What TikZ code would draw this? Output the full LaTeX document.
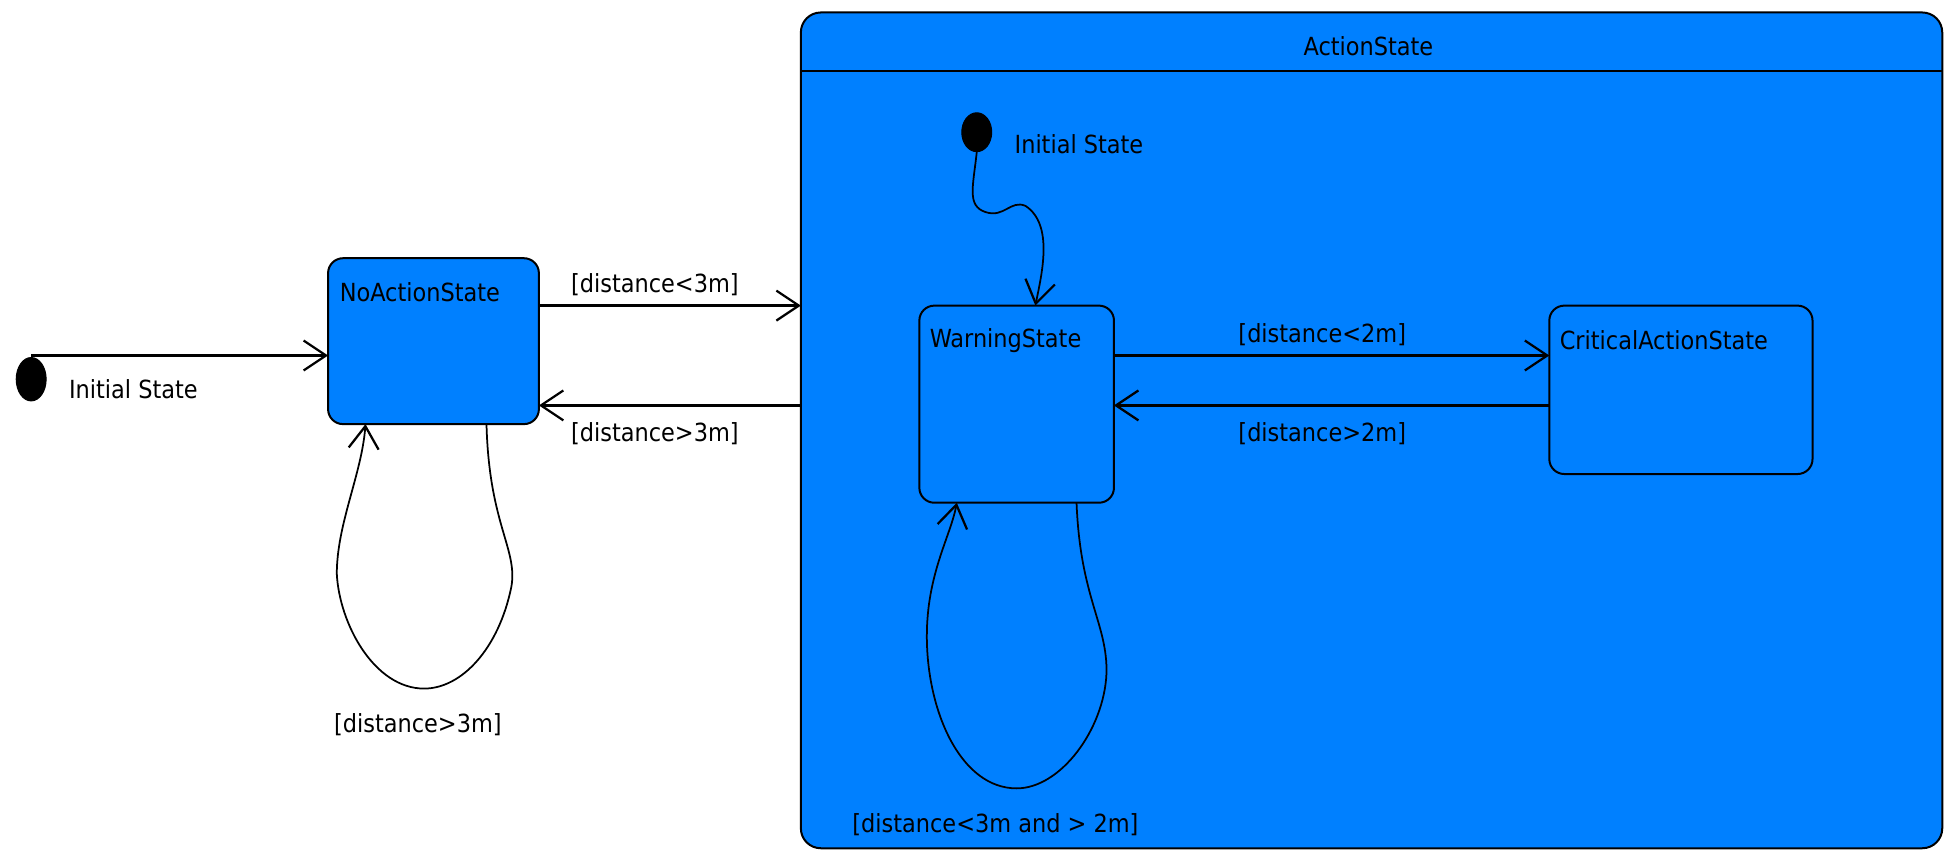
\documentclass[tikz,border=0pt]{standalone}
\usepackage{fontspec}
\setmainfont{DejaVu Sans Condensed}
\usetikzlibrary{arrows.meta}
\definecolor{stblue}{HTML}{0080FF}
\begin{document}
\begin{tikzpicture}[x=0.5pt,y=-0.5pt,
  txt/.style={font=\fontsize{10}{12}\selectfont, inner sep=0pt},
  st/.style={draw=black, line width=0.8pt, fill=stblue, rounded corners=6pt},
  arr/.style={line width=0.9pt, -{Straight Barb[length=9pt,width=12pt,line width=0.9pt]}},
  dot/.style={fill=black, ellipse, minimum width=12pt, minimum height=17pt, inner sep=0pt}]
\useasboundingbox[fill=white] (0,0) rectangle (1560,684);
% composite
\draw[st, rounded corners=8pt] (642,10) rectangle (1557,680);
\coordinate (as) at (642,0);
\draw[line width=0.9pt] (642,57) -- (1557,57);
\node[txt] (astitle) at (1097,37) {ActionState};
% states
\draw[st] (263,207) rectangle (432,340);
\node[txt, anchor=west] (nal) at (272,234) {NoActionState};
\draw[st] (737,245) rectangle (893,403);
\node[txt, anchor=west] (wsl) at (745,273) {WarningState};
\draw[st] (1242,245) rectangle (1453,380);
\node[txt, anchor=west] (csl) at (1250,273) {CriticalActionState};
% initial states
\node[draw, fill=black, shape=circle, inner sep=0pt, minimum size=12pt, xscale=1, yscale=1.45] (i1) at (25,304) {};
\node[txt, anchor=west] (i1l) at (55,312) {Initial State};
\node[draw, fill=black, shape=circle, inner sep=0pt, minimum size=12pt, yscale=1.3] (i2) at (783,106) {};
\node[txt, anchor=west] (i2l) at (813,116) {Initial State};
% coordinates
\coordinate (a0) at (25,285); \coordinate (a1) at (263,285);
\coordinate (b0) at (432,245); \coordinate (b1) at (642,245);
\coordinate (c0) at (642,325); \coordinate (c1) at (432,325);
\coordinate (d0) at (893,285); \coordinate (d1) at (1242,285);
\coordinate (e0) at (1242,325); \coordinate (e1) at (893,325);
\coordinate (l1a) at (390,340); \coordinate (l1b) at (293,340);
\coordinate (l2a) at (863,403); \coordinate (l2b) at (767,403);
\coordinate (s0) at (783,122); \coordinate (s1) at (830,245);
% transitions
\draw[arr] (a0) -- (a1);
\draw[arr] (b0) -- (b1);
\node[txt] (tb) at (525,228) {[distance<3m]};
\draw[arr] (c0) -- (c1);
\node[txt] (tc) at (525,348) {[distance>3m]};
\draw[arr] (d0) -- (d1);
\node[txt] (td) at (1060,268) {[distance<2m]};
\draw[arr] (e0) -- (e1);
\node[txt] (te) at (1060,348) {[distance>2m]};
\draw[arr, line width=0.7pt] (l1a) .. controls (392,420) and (415,440) .. (410,470)
   .. controls (400,520) and (370,552) .. (340,552)
   .. controls (300,552) and (272,500) .. (270,460)
   .. controls (270,420) and (290,380) .. (l1b);
\node[txt] (tl1) at (335,581) {[distance>3m]};
\draw[arr, line width=0.7pt] (l2a) .. controls (866,480) and (888,500) .. (887,540)
   .. controls (885,585) and (850,632) .. (815,632)
   .. controls (770,632) and (743,570) .. (743,510)
   .. controls (743,460) and (762,430) .. (l2b);
\node[txt] (tl2) at (798,661) {[distance<3m and > 2m]};
\draw[arr, line width=0.7pt] (s0) .. controls (780,150) and (775,165) .. (790,170)
   .. controls (805,175) and (810,160) .. (822,165)
   .. controls (845,180) and (835,220) .. (s1);
\end{tikzpicture}
\end{document}
